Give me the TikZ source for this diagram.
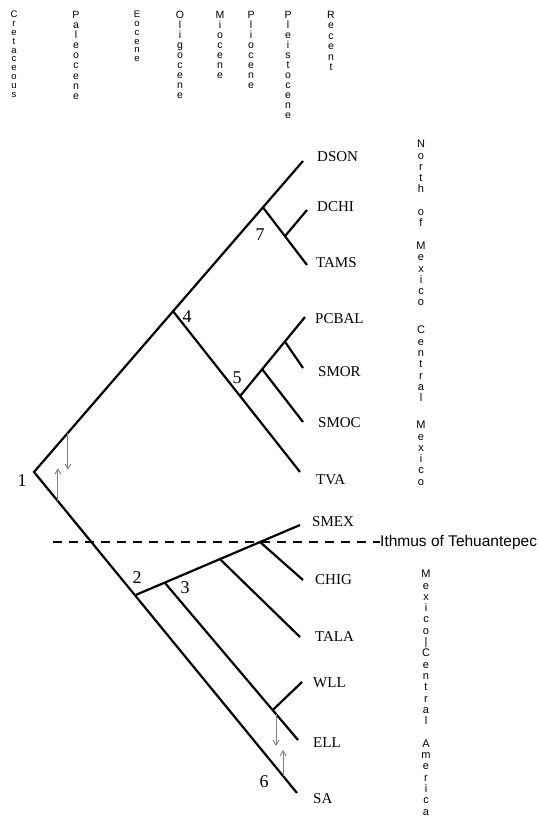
\documentclass[tikz,border=0pt]{standalone}
\usepackage{fontspec}
\setmainfont{Liberation Serif}
\setsansfont{Liberation Sans}
\usetikzlibrary{arrows.meta,calc}

% letters stacked one under the other
\newcommand\vtext[1]{\vtextloop#1\relax}
\def\vtextloop#1{\ifx\relax#1\else#1\\\expandafter\vtextloop\fi}

\tikzset{
  branch/.style={line width=2.2pt, line join=miter},
  taxon/.style={anchor=west, inner sep=0pt, font=\fontsize{15}{15}\selectfont},
  clade/.style={inner sep=0pt, font=\fontsize{18}{18}\selectfont},
  period/.style={anchor=north, align=center, inner sep=0pt},
  region/.style={anchor=north, align=center, inner sep=0pt,
    font=\sffamily\fontsize{11}{11.3}\selectfont},
  migr/.style={draw=gray, line width=0.9pt, -{Straight Barb[length=5pt,width=6pt]}},
  dashline/.style={line width=1.6pt, dash pattern=on 9pt off 7pt},
}

\begin{document}
\begin{tikzpicture}[x=1pt,y=-1pt]
  \useasboundingbox (0,0) rectangle (538,820);

  % epochs
  \foreach \name/\x/\fs/\sk in {Cretaceous/14/9.5/8.8, Paleocene/76/10.5/10.1, Eocene/137/9.5/8.8,
      Oligocene/180/10.5/10, Miocene/220/10.5/10, Pliocene/251/10.5/10,
      Pleistocene/288/10.5/10, Recent/331/10.5/10.4}
    \node[period, font=\sffamily\fontsize{\fs}{\sk}\selectfont] (p-\name) at (\x,11)
      {\expandafter\vtext\expandafter{\name}};

  % tips
  \coordinate (root) at (34,472);
  \coordinate (dson) at (303,161);
  \coordinate (dchi) at (307,210);
  \coordinate (tams) at (307,265);
  \coordinate (pcbal) at (305,317);
  \coordinate (smor) at (303,368);
  \coordinate (smoc) at (303,422);
  \coordinate (tva) at (300,472);
  \coordinate (smex) at (300,525);
  \coordinate (chig) at (303,580);
  \coordinate (tala) at (300,637);
  \coordinate (wll) at (302,682);
  \coordinate (ell) at (298,740);
  \coordinate (sa) at (297,793);

  % internal nodes
  \coordinate (n4) at ($(root)!0.517!(dson)$);
  \coordinate (n7) at ($(root)!0.851!(dson)$);
  \coordinate (n7b) at ($(n7)!0.5!(tams)$);
  \coordinate (n5) at ($(n4)!0.528!(tva)$);
  \coordinate (n5a) at ($(n5)!0.34!(pcbal)$);
  \coordinate (n5b) at ($(n5)!0.69!(pcbal)$);
  \coordinate (n2) at ($(root)!0.384!(sa)$);
  \coordinate (n3) at ($(n2)!0.18!(smex)$);
  \coordinate (n2b) at ($(n2)!0.515!(smex)$);
  \coordinate (n2c) at ($(n2)!0.758!(smex)$);
  \coordinate (n3b) at ($(n3)!0.81!(ell)$);

  % branches
  \draw[branch] (dson) -- (root) -- (sa);
  \foreach \a/\b in {n7/tams, n7b/dchi, n4/tva, n5/pcbal, n5a/smoc, n5b/smor,
      n2/smex, n2c/chig, n2b/tala, n3/ell, n3b/wll}
    \draw[branch] (\a) -- (\b);

  % taxa
  \node[taxon] (DSON) at (317,157) {DSON};
  \node[taxon] (DCHI) at (317,207) {DCHI};
  \node[taxon] (TAMS) at (316,263) {TAMS};
  \node[taxon] (PCBAL) at (315,319) {PCBAL};
  \node[taxon] (SMOR) at (318,372) {SMOR};
  \node[taxon] (SMOC) at (318,423) {SMOC};
  \node[taxon] (TVA) at (316,480) {TVA};
  \node[taxon] (SMEX) at (312,522) {SMEX};
  \node[taxon] (CHIG) at (315,580) {CHIG};
  \node[taxon] (TALA) at (315,637) {TALA};
  \node[taxon] (WLL) at (313,683) {WLL};
  \node[taxon] (ELL) at (313,743) {ELL};
  \node[taxon] (SA) at (313,799) {SA};

  % node numbers
  \node[clade] (l1) at (22,481) {1};
  \node[clade] (l2) at (137,578) {2};
  \node[clade] (l3) at (185,588) {3};
  \node[clade] (l4) at (187,317) {4};
  \node[clade] (l5) at (237,378) {5};
  \node[clade] (l6) at (264,782) {6};
  \node[clade] (l7) at (260,235) {7};

  % isthmus
  \coordinate (isthL) at (53,542);
  \node[anchor=west, inner sep=0pt, font=\sffamily\fontsize{15.5}{15.5}\selectfont]
    (isth) at (380,542) {Ithmus of Tehuantepec};
  \draw[dashline] (isthL) -- (isth.west);

  % regions
  \node[region] (r-north) at (421,140) {\vtext{North\strut of\strut Mexico}};
  \node[region] (r-central) at (421,326) {\vtext{Central}};
  \node[region] (r-mex) at (421,421) {\vtext{Mexico}};
  \node[region] (r-meso) at (426,570) {\vtext{Mexico|Central\strut America}};

  % dispersal arrows
  \coordinate (a1) at ($(root)!0.126!(dson)$);
  \coordinate (a2) at ($(root)!0.091!(sa)$);
  \coordinate (a3) at ($(n3)!0.835!(ell)$);
  \coordinate (a4) at ($(root)!0.947!(sa)$);
  \draw[migr] (a1) -- ++(0,37);
  \draw[migr] (a2) -- ++(0,-33);
  \draw[migr] (a3) -- ++(0,32);
  \draw[migr] (a4) -- ++(0,-26);
\end{tikzpicture}
\end{document}
